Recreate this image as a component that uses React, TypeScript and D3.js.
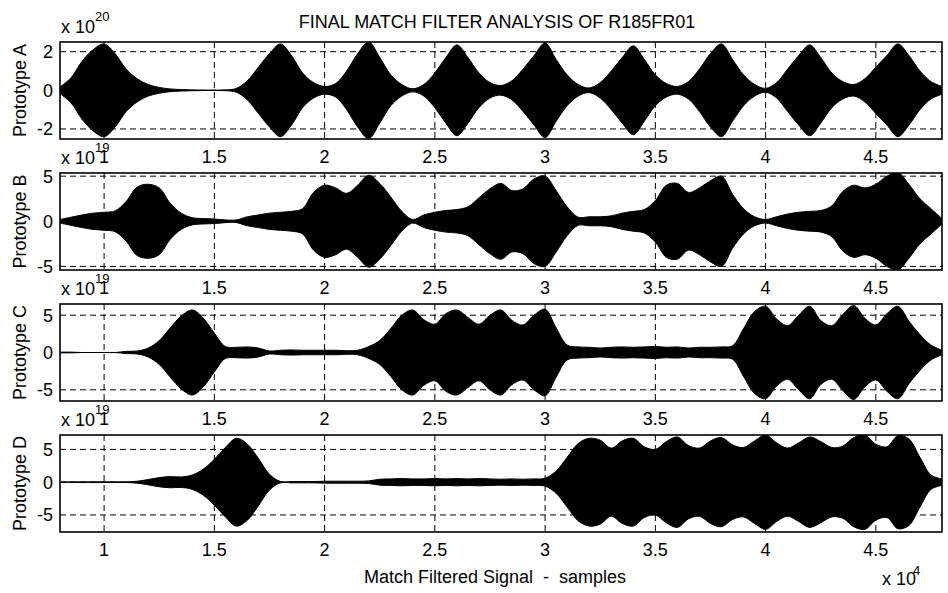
import * as d3 from 'd3';

// envelope amplitude of each matched-filter output, one value every 500 samples from 8000 to 48000
const sampleStart = 8000;
const sampleStep = 500;

const protoA = [
  0.17, 0.65, 1.5, 2.1, 2.4, 1.9, 1.1, 0.6, 0.3, 0.15,
  0.07, 0.04, 0.02, 0.01, 0.01, 0.02, 0.1, 0.5, 1.2, 1.9,
  2.4, 1.8, 0.9, 0.4, 0.2, 0.35, 1.0, 1.9, 2.5, 1.7,
  0.8, 0.3, 0.08, 0.3, 0.9, 1.7, 2.35, 1.7, 0.9, 0.4,
  0.25, 0.5, 1.1, 1.8, 2.45, 1.6, 0.8, 0.3, 0.12, 0.4,
  1.0, 1.7, 2.3, 1.6, 0.8, 0.35, 0.2, 0.45, 1.1, 1.9,
  2.4, 1.6, 0.8, 0.3, 0.1, 0.4, 1.1, 1.8, 2.35, 1.7,
  0.9, 0.45, 0.3, 0.6, 1.2, 1.8, 2.4, 1.8, 1.0, 0.45,
  0.2,
];

const protoB = [
  0.2, 0.45, 0.7, 0.9, 1.0, 1.15, 2.2, 3.8, 4.1, 3.7,
  2.0, 0.9, 0.4, 0.3, 0.25, 0.15, 0.15, 0.5, 0.7, 0.9,
  1.0, 1.1, 1.4, 3.2, 4.0, 3.7, 3.1, 4.0, 5.1, 4.2,
  2.7, 1.1, 0.2, 0.7, 1.0, 1.2, 1.3, 1.6, 2.6, 3.6,
  4.2, 3.4, 3.6, 4.7, 5.0, 3.4, 1.6, 0.45, 0.5, 0.5,
  0.6, 0.9, 1.1, 1.3, 2.3, 4.0, 4.2, 3.2, 3.7, 4.5,
  5.0, 3.0, 1.4, 0.5, 0.2, 0.5, 0.8, 1.0, 1.1, 1.2,
  1.7, 3.3, 4.0, 3.7, 4.1, 5.0, 5.4, 4.1, 2.5, 1.4,
  0.3,
];

const protoC = [
  0.05, 0.05, 0.0, 0.0, 0.0, 0.0, 0.15, 0.2, 0.6, 1.6,
  3.3, 4.9, 5.7, 4.6, 2.6, 0.8, 0.7, 0.75, 0.6, 0.2,
  0.3, 0.35, 0.3, 0.3, 0.3, 0.3, 0.25, 0.3, 0.8, 1.6,
  3.2, 5.0, 5.7, 4.4, 3.8, 5.2, 5.7, 4.7, 3.8, 5.0,
  5.7, 4.3, 3.7, 5.0, 5.8, 3.3, 1.0, 0.75, 0.7, 0.6,
  0.7, 0.75, 0.7, 0.75, 0.8, 0.7, 0.75, 0.6, 0.7, 0.7,
  0.75, 0.9, 3.2, 5.5, 6.2, 4.5, 3.6, 5.0, 6.2, 4.3,
  3.6, 5.1, 6.3, 4.6, 3.7, 5.2, 6.2, 4.2, 2.4, 1.0,
  0.3,
];

const protoD = [
  0.05, 0.05, 0.05, 0.05, 0.05, 0.05, 0.05, 0.15, 0.4, 0.7,
  0.85, 0.8, 1.1, 2.0, 3.5, 5.3, 6.7, 5.8, 3.6, 1.2,
  0.1, 0.1, 0.1, 0.1, 0.15, 0.15, 0.15, 0.15, 0.2, 0.45,
  0.5, 0.55, 0.5, 0.5, 0.55, 0.5, 0.55, 0.5, 0.55, 0.5,
  0.45, 0.5, 0.45, 0.5, 0.6, 1.7, 3.8, 5.9, 6.7, 6.4,
  5.2, 6.3, 6.7, 5.4, 5.0, 6.2, 6.9, 5.6, 5.2, 6.3,
  6.8, 5.7, 5.3, 6.3, 7.2, 6.0, 5.2, 6.0, 6.9, 6.2,
  5.3, 5.5, 6.8, 7.2, 5.8, 5.4, 7.1, 6.6, 3.8, 1.1,
  0.5,
];

const xTicks = [10000, 15000, 20000, 25000, 30000, 35000, 40000, 45000];
const xTickLabels = ['1', '1.5', '2', '2.5', '3', '3.5', '4', '4.5'];
const panelLabels = ['Prototype A', 'Prototype B', 'Prototype C', 'Prototype D'];
const panelExponents = ['20', '19', '19', '19'];
const yTicksA = [-2, 0, 2];
const yTicksBCD = [-5, 0, 5];
const yDomains: [number, number][] = [[-2.52, 2.5], [-5.4, 5.35], [-6.5, 6.5], [-7.6, 7.2]];

const FONT = "'Liberation Sans', Arial, Helvetica, sans-serif";

export default function App() {
  const width = 948;
  const height = 593;
  const left = 60;
  const right = 942;
  const panelH = 97;
  const tops = [42, 173, 304, 435];

  const x = d3.scaleLinear().domain([8000, 48000]).range([left, right]);

  const panels = [
    { env: protoA, ticks: yTicksA },
    { env: protoB, ticks: yTicksBCD },
    { env: protoC, ticks: yTicksBCD },
    { env: protoD, ticks: yTicksBCD },
  ];

  return (
    <svg
      width={width}
      height={height}
      style={{ position: 'absolute', left: 0, top: 0, background: '#fff' }}
      fontFamily={FONT}
    >
      <rect width={width} height={height} fill="#fff" />
      <text x={497} y={28} fontSize={18} textAnchor="middle" fill="#000">
        FINAL MATCH FILTER ANALYSIS OF R185FR01
      </text>

      {panels.map((p, i) => {
        const top = tops[i];
        const bottom = top + panelH;
        const y = d3.scaleLinear().domain(yDomains[i]).range([bottom, top]);
        const area = d3
          .area<number>()
          .x((_, k) => x(sampleStart + k * sampleStep))
          .y0((v) => y(-v))
          .y1((v) => y(v))
          .curve(d3.curveCatmullRom.alpha(0.5));
        const clipId = `clip-${i}`;
        return (
          <g key={i}>
            <defs>
              <clipPath id={clipId}>
                <rect x={left} y={top} width={right - left} height={panelH} />
              </clipPath>
            </defs>
            {/* grid */}
            {xTicks.map((t) => (
              <line
                key={`gx${t}`}
                x1={x(t)}
                x2={x(t)}
                y1={top}
                y2={bottom}
                stroke="#000"
                strokeWidth={1}
                strokeDasharray="6,4"
              />
            ))}
            {p.ticks.map((t) => (
              <line
                key={`gy${t}`}
                x1={left}
                x2={right}
                y1={y(t)}
                y2={y(t)}
                stroke="#000"
                strokeWidth={1}
                strokeDasharray="6,4"
              />
            ))}
            {/* signal envelope */}
            <path
              d={area(p.env) || ''}
              fill="#000"
              stroke="#000"
              strokeWidth={1}
              clipPath={`url(#${clipId})`}
            />
            {/* frame */}
            <rect
              x={left}
              y={top}
              width={right - left}
              height={panelH}
              fill="none"
              stroke="#000"
              strokeWidth={1.6}
            />
            {/* y ticks */}
            {p.ticks.map((t) => (
              <text
                key={`ty${t}`}
                x={53}
                y={y(t)}
                dy="0.36em"
                fontSize={18}
                textAnchor="end"
                fill="#000"
              >
                {t}
              </text>
            ))}
            {/* x ticks */}
            {xTicks.map((t, k) => (
              <text
                key={`tx${t}`}
                x={x(t)}
                y={bottom + 24}
                fontSize={18}
                textAnchor="middle"
                fill="#000"
              >
                {xTickLabels[k]}
              </text>
            ))}
            {/* exponent */}
            <text x={61} y={top - 9.5} fontSize={18} fill="#000">
              x 10
            </text>
            <text x={95} y={top - 21} fontSize={13} fill="#000">
              {panelExponents[i]}
            </text>
            {/* y label */}
            <text
              transform={`translate(26,${top + panelH / 2}) rotate(-90)`}
              fontSize={18}
              textAnchor="middle"
              fill="#000"
            >
              {panelLabels[i]}
            </text>
          </g>
        );
      })}

      <text
        x={495}
        y={583}
        fontSize={18}
        textAnchor="middle"
        fill="#000"
        style={{ whiteSpace: 'pre' }}
      >
        {'Match Filtered Signal  -  samples'}
      </text>
      <text x={882} y={585} fontSize={18} fill="#000">
        x 10
      </text>
      <text x={913} y={575} fontSize={13} fill="#000">
        4
      </text>
    </svg>
  );
}
